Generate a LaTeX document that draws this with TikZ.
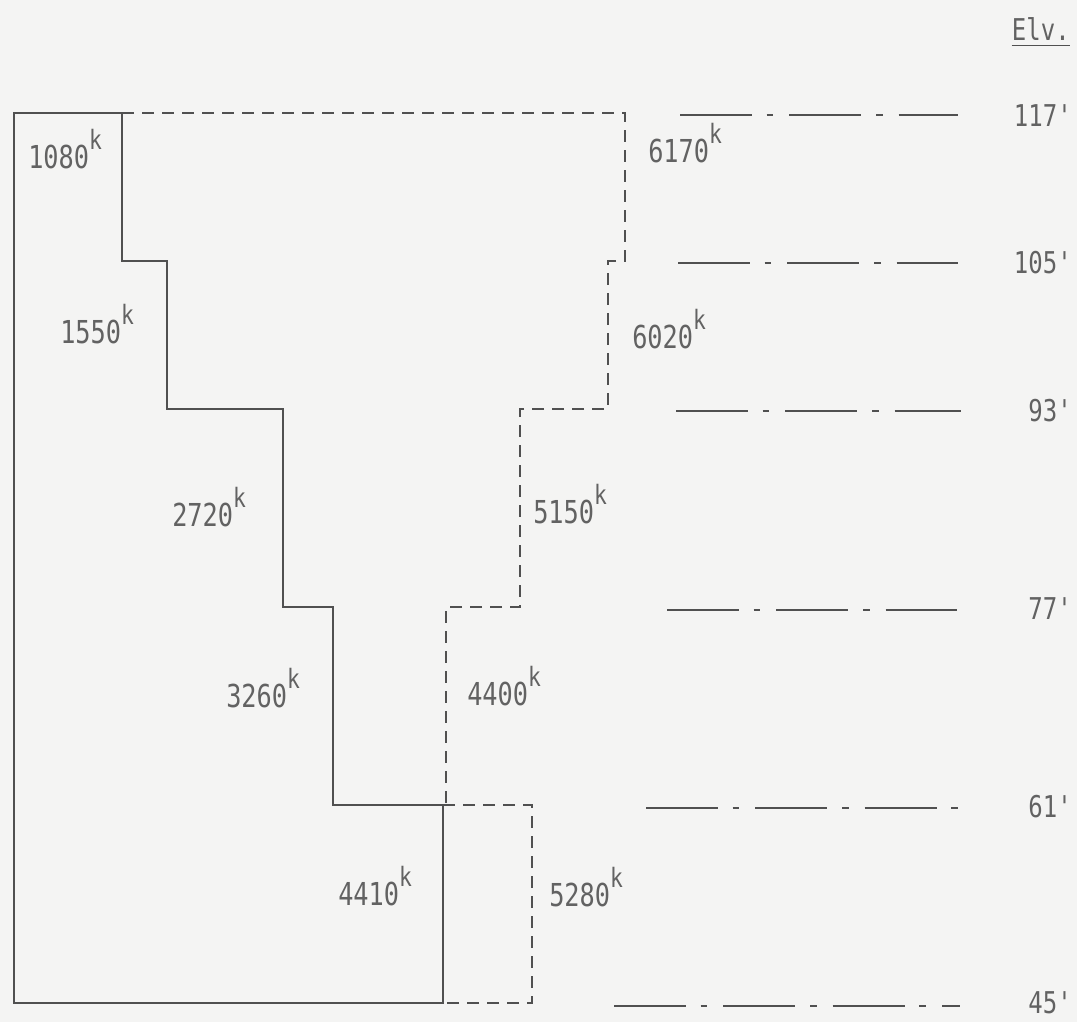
\documentclass[tikz,border=0pt]{standalone}
\usepackage{fontspec}
\setmainfont{DejaVu Sans Mono}[FakeStretch=0.8, Ligatures=TeXOff]
\definecolor{bg}{HTML}{F4F4F3}
\definecolor{ink}{HTML}{505050}
\definecolor{txt}{HTML}{626262}
\newcommand{\kip}[1]{#1\raisebox{0.6em}{\fontsize{20pt}{22pt}\selectfont k}}
\tikzset{
  wall/.style={draw=ink, line width=1.4pt, line join=miter},
  dashwall/.style={draw=ink, line width=1.4pt, dash pattern=on 9pt off 6pt},
  levelline/.style={draw=ink, line width=1.3pt, dash pattern=on 54pt off 11pt on 5pt off 12pt},
  load/.style={anchor=base west, inner sep=0pt, text=txt, font=\fontsize{23.7pt}{28pt}\selectfont},
  elev/.style={anchor=base east, inner sep=0pt, text=txt, font=\fontsize{22.5pt}{26pt}\selectfont}
}
\begin{document}
\begin{tikzpicture}[x=0.75pt,y=-0.75pt]
\fill[bg] (0,0) rectangle (1077,1022);
\useasboundingbox (0,0) rectangle (1077,1022);

% solid outline corners
\coordinate (s1) at (14,113);
\coordinate (s2) at (122,113);
\coordinate (s3) at (122,261);
\coordinate (s4) at (167,261);
\coordinate (s5) at (167,409);
\coordinate (s6) at (283,409);
\coordinate (s7) at (283,607);
\coordinate (s8) at (333,607);
\coordinate (s9) at (333,805);
\coordinate (s10) at (443,805);
\coordinate (s11) at (443,1003);
\coordinate (s12) at (14,1003);
\draw[wall] (s1) -- (s2) -- (s3) -- (s4) -- (s5) -- (s6) -- (s7) -- (s8) -- (s9) -- (s10) -- (s11) -- (s12) -- cycle;

% dashed outline corners
\coordinate (d1) at (625,113);
\coordinate (d2) at (625,261);
\coordinate (d3) at (608,261);
\coordinate (d4) at (608,409);
\coordinate (d5) at (520,409);
\coordinate (d6) at (520,607);
\coordinate (d7) at (446,607);
\coordinate (d8) at (446,805);
\coordinate (d9) at (532,805);
\coordinate (d10) at (532,1003);
\draw[dashwall] (s2) -- (d1) -- (d2) -- (d3) -- (d4) -- (d5) -- (d6) -- (d7) -- (d8);
\draw[dashwall] (s10) -- (d9) -- (d10) -- (s11);

% load labels
\node[load] (l1080) at (28,168) {\kip{1080}};
\node[load] (l1550) at (60,343) {\kip{1550}};
\node[load] (l2720) at (172,526) {\kip{2720}};
\node[load] (l3260) at (226,707) {\kip{3260}};
\node[load] (l4410) at (338,905) {\kip{4410}};
\node[load] (l6170) at (648,162) {\kip{6170}};
\node[load] (l6020) at (632,348) {\kip{6020}};
\node[load] (l5150) at (533,523) {\kip{5150}};
\node[load] (l4400) at (467,705) {\kip{4400}};
\node[load] (l5280) at (549,906) {\kip{5280}};

% elevation lines
\coordinate (e117a) at (680,115); \coordinate (e117b) at (958,115);
\coordinate (e105a) at (678,263); \coordinate (e105b) at (958,263);
\coordinate (e93a) at (676,411);  \coordinate (e93b) at (961,411);
\coordinate (e77a) at (667,610);  \coordinate (e77b) at (957,610);
\coordinate (e61a) at (646,808);  \coordinate (e61b) at (960,808);
\coordinate (e45a) at (614,1006); \coordinate (e45b) at (960,1006);
\draw[levelline] (e117a) -- (e117b);
\draw[levelline] (e105a) -- (e105b);
\draw[levelline] (e93a) -- (e93b);
\draw[levelline] (e77a) -- (e77b);
\draw[levelline] (e61a) -- (e61b);
\draw[levelline] (e45a) -- (e45b);

% elevation labels
\node[elev] (elv) at (1070,40) {Elv.};
\draw[draw=ink, line width=1.2pt] ([yshift=-4pt]elv.south west) -- ([yshift=-4pt]elv.south east);
\node[elev] (v117) at (1072,126) {117'};
\node[elev] (v105) at (1072,273) {105'};
\node[elev] (v93) at (1072,421) {93'};
\node[elev] (v77) at (1072,619) {77'};
\node[elev] (v61) at (1072,817) {61'};
\node[elev] (v45) at (1072,1013) {45'};
\end{tikzpicture}
\end{document}
